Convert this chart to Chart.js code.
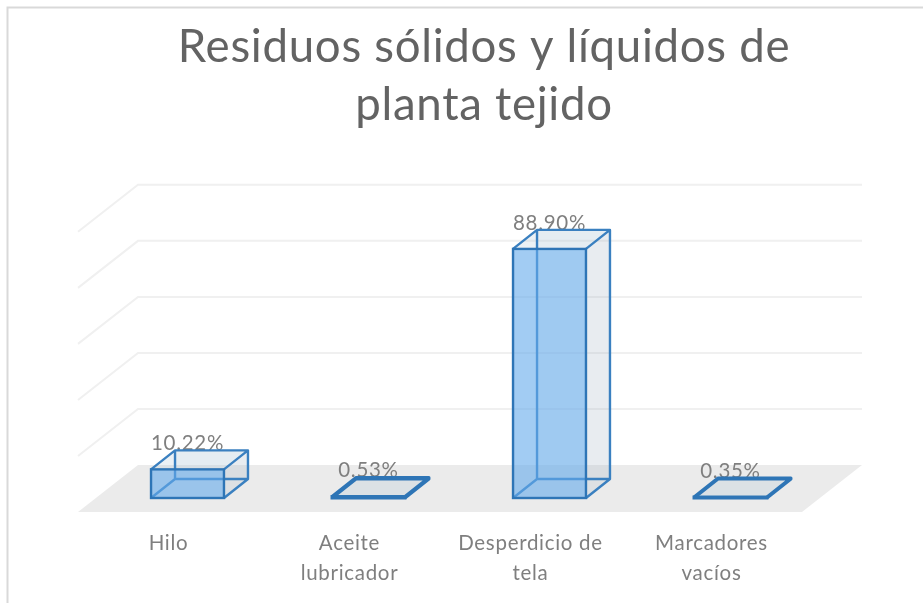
<!DOCTYPE html>
<html><head><meta charset="utf-8">
<style>html,body{margin:0;padding:0;background:#fff}canvas{display:block}</style>
<script src="https://cdn.jsdelivr.net/npm/chart.js@4"></script>
</head><body><canvas id="c" width="923" height="603"></canvas>
<script>
const categories = [["Hilo"], ["Aceite","lubricador"], ["Desperdicio de","tela"], ["Marcadores","vacíos"]];
const values = [10.22, 0.53, 88.90, 0.35];
const valueLabels = ["10.22%", "0.53%", "88.90%", "0.35%"];
const gridValues = [0, 20, 40, 60, 80, 100];
const titleLines = ["Residuos sólidos y líquidos de", "planta tejido"];

const FONT = "Lato, Carlito, 'Open Sans', sans-serif";
const BAR_D = {x: 24, y: -19};
const FLOOR_FRONT = {x: -19, y: 14};
const FLOOR_BACK = {x: 41, y: -33};
const LINE = '#2e75b6';

const plugin3d = {
  id: 'plugin3d',
  beforeDraw(chart) {
    const c = chart.ctx;
    c.save();
    c.strokeStyle = '#d9d9d9'; c.lineWidth = 2;
    c.beginPath(); c.moveTo(7.5, 603); c.lineTo(7.5, 7.5); c.lineTo(923, 7.5); c.stroke();
    c.restore();
    c.letterSpacing = '0.7px';
  },
  beforeDatasetsDraw(chart) {
    const c = chart.ctx, a = chart.chartArea, ys = chart.scales.y;
    const base = ys.getPixelForValue(0);
    const fl = a.left + FLOOR_FRONT.x, fr = a.right + FLOOR_FRONT.x, fb = base + FLOOR_FRONT.y;
    const bl = a.left + FLOOR_BACK.x, br = a.right + FLOOR_BACK.x, bb = base + FLOOR_BACK.y;
    c.save();
    c.fillStyle = '#ebebeb';
    c.beginPath(); c.moveTo(fl, fb); c.lineTo(fr, fb); c.lineTo(br, bb); c.lineTo(bl, bb); c.closePath(); c.fill();
    c.strokeStyle = '#f0f0f0'; c.lineWidth = 2;
    gridValues.slice(1).forEach(v => {
      const dy = ys.getPixelForValue(v) - base;
      c.beginPath(); c.moveTo(fl, fb + dy); c.lineTo(bl, bb + dy); c.lineTo(br, bb + dy); c.stroke();
    });
    // value labels sit behind the boxes
    c.fillStyle = '#7f7f7f'; c.font = '20.5px ' + FONT; c.textAlign = 'center'; c.textBaseline = 'middle';
    const meta = chart.getDatasetMeta(0);
    meta.data.forEach((b, i) => c.fillText(valueLabels[i], b.x, b.y - 26));
    // rear, side and top faces of each box
    meta.data.forEach(b => {
      const l = b.x - b.width / 2, r = b.x + b.width / 2, t = b.y, u = b.base;
      const d = BAR_D;
      const poly = (pts, fill) => { c.beginPath(); pts.forEach((p, k) => k ? c.lineTo(p[0], p[1]) : c.moveTo(p[0], p[1])); c.closePath(); c.fillStyle = fill; c.fill(); };
      poly([[l+d.x,t+d.y],[r+d.x,t+d.y],[r+d.x,u+d.y],[l+d.x,u+d.y]], 'rgba(190,205,220,0.10)');
      poly([[r,t],[r+d.x,t+d.y],[r+d.x,u+d.y],[r,u]], 'rgba(165,180,195,0.20)');
      poly([[l,t],[r,t],[r+d.x,t+d.y],[l+d.x,t+d.y]], 'rgba(165,190,210,0.22)');
      const flat = u - t < 4;
      c.strokeStyle = flat ? LINE : '#3a80c0'; c.lineWidth = flat ? 3 : 2.4; c.lineJoin = 'round';
      c.beginPath();
      c.moveTo(l,t); c.lineTo(l+d.x,t+d.y); c.lineTo(r+d.x,t+d.y); c.lineTo(r,t);
      c.moveTo(r+d.x,t+d.y); c.lineTo(r+d.x,u+d.y); c.lineTo(r,u);
      c.moveTo(l+d.x,t+d.y); c.lineTo(l+d.x,u+d.y); c.lineTo(r+d.x,u+d.y);
      c.moveTo(l,u); c.lineTo(l+d.x,u+d.y);
      c.stroke();
    });
    c.restore();
  },
  afterDatasetsDraw(chart) {
    const c = chart.ctx;
    c.save();
    c.strokeStyle = LINE;
    chart.getDatasetMeta(0).data.forEach(b => {
      const l = b.x - b.width / 2, r = b.x + b.width / 2;
      c.lineWidth = b.base - b.y < 4 ? 3 : 2.4;
      c.strokeRect(l, b.y, r - l, b.base - b.y);
    });
    c.restore();
  }
};

new Chart(document.getElementById('c'), {
  type: 'bar',
  plugins: [plugin3d],
  data: { labels: categories, datasets: [{
    data: values,
    backgroundColor: 'rgba(100,170,235,0.6)',
    borderWidth: 0,
    barPercentage: 0.403,
    categoryPercentage: 1
  }]},
  options: {
    responsive: false, animation: false,
    layout: { padding: { left: 97, right: 52, top: 0, bottom: 0 } },
    plugins: {
      legend: { display: false }, tooltip: { enabled: false },
      title: { display: true, text: titleLines, color: '#636363',
        font: { family: FONT, size: 45.6, weight: '400', lineHeight: 1.27 },
        padding: { top: 18, bottom: 84 } }
    },
    scales: {
      x: { grid: { display: false, drawTicks: false }, border: { display: false },
        ticks: { color: '#7f7f7f', font: { family: FONT, size: 20.5, lineHeight: 1.46 }, maxRotation: 0, autoSkip: false, labelOffset: -19, padding: 30 },
        afterFit(s) { s.height = 105; } },
      y: { display: false, min: 0, max: 100 },
      y2: { position: 'right', min: 0, max: 100, grid: { display: false, drawTicks: false }, border: { display: false },
        ticks: { display: false }, afterFit(s) { s.width = 50; } }
    }
  }
});
</script></body></html>
